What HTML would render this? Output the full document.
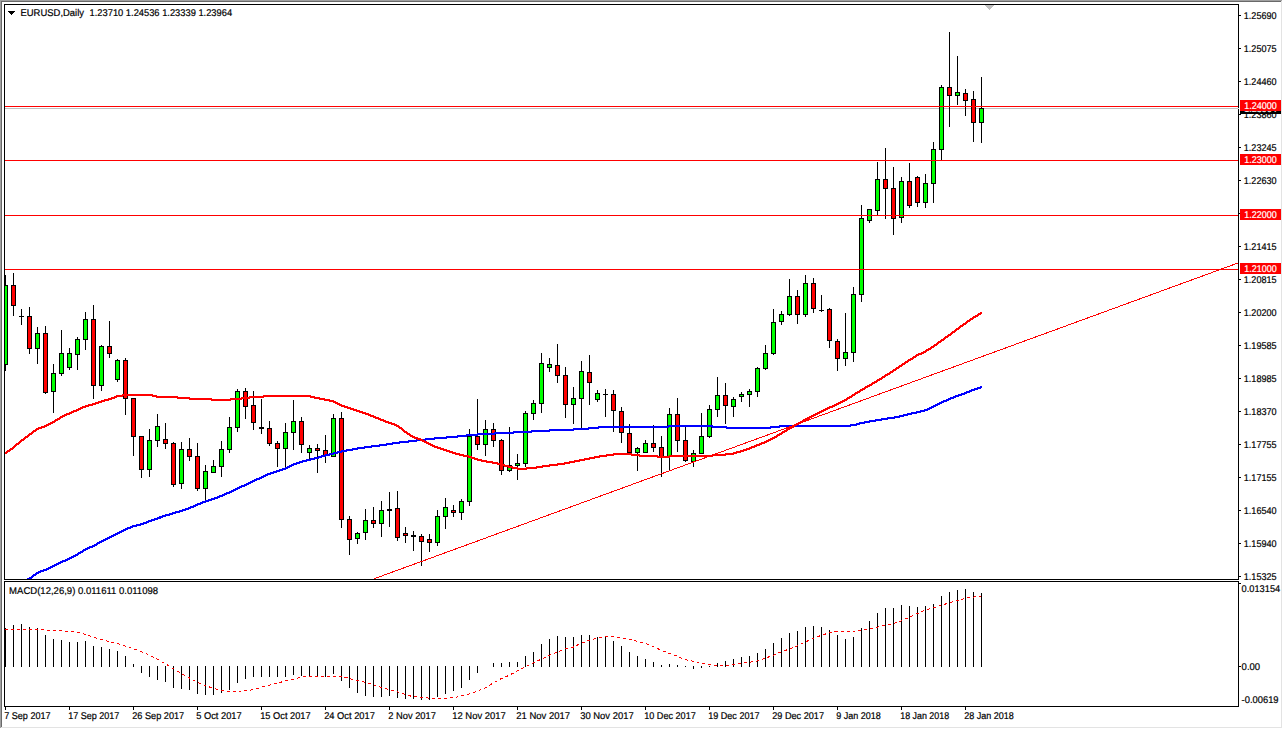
<!DOCTYPE html><html><head><meta charset="utf-8"><title>EURUSD,Daily</title><style>html,body{margin:0;padding:0;background:#fff;overflow:hidden}svg{display:block}text{font-family:"Liberation Sans",Arial,sans-serif;font-size:9.8px;text-rendering:geometricPrecision;stroke:currentColor;stroke-width:0.2px}</style></head><body>
<svg width="1283" height="729" viewBox="0 0 1283 729">
<defs><clipPath id="cm"><rect x="5" y="5" width="1233" height="574"/></clipPath><clipPath id="cd"><rect x="5" y="582" width="1233" height="124"/></clipPath></defs>
<rect x="0" y="0" width="1283" height="729" fill="#fff"/>
<g shape-rendering="crispEdges"><rect x="0" y="0" width="1282" height="1" fill="#a0a0a0"/><rect x="0" y="0" width="1" height="728" fill="#a0a0a0"/><rect x="1" y="1" width="1280" height="1" fill="#696969"/><rect x="1" y="1" width="1" height="726" fill="#696969"/><rect x="1281" y="1" width="1" height="727" fill="#e3e3e3"/><rect x="1" y="727" width="1281" height="1" fill="#e3e3e3"/></g>
<g clip-path="url(#cm)">
<rect x="5" y="108" width="1234" height="1" fill="#c0c0c0" shape-rendering="crispEdges"/>
<g shape-rendering="crispEdges" fill="#000"><rect x="5" y="275" width="1" height="96"/><rect x="3" y="285" width="5" height="80"/><rect x="4" y="286" width="3" height="78" fill="#00ff00"/><rect x="13" y="273" width="1" height="43"/><rect x="11" y="285" width="5" height="21"/><rect x="12" y="286" width="3" height="19" fill="#ff0000"/><rect x="21" y="309" width="1" height="16"/><rect x="19" y="316" width="5" height="1"/><rect x="29" y="307" width="1" height="47"/><rect x="27" y="316" width="5" height="33"/><rect x="28" y="317" width="3" height="31" fill="#ff0000"/><rect x="37" y="327" width="1" height="37"/><rect x="35" y="333" width="5" height="16"/><rect x="36" y="334" width="3" height="14" fill="#00ff00"/><rect x="45" y="326" width="1" height="68"/><rect x="43" y="333" width="5" height="60"/><rect x="44" y="334" width="3" height="58" fill="#ff0000"/><rect x="53" y="364" width="1" height="49"/><rect x="51" y="373" width="5" height="19"/><rect x="52" y="374" width="3" height="17" fill="#00ff00"/><rect x="61" y="330" width="1" height="46"/><rect x="59" y="353" width="5" height="21"/><rect x="60" y="354" width="3" height="19" fill="#00ff00"/><rect x="69" y="348" width="1" height="22"/><rect x="67" y="353" width="5" height="15"/><rect x="68" y="354" width="3" height="13" fill="#00ff00"/><rect x="77" y="337" width="1" height="33"/><rect x="75" y="339" width="5" height="16"/><rect x="76" y="340" width="3" height="14" fill="#00ff00"/><rect x="85" y="312" width="1" height="38"/><rect x="83" y="319" width="5" height="21"/><rect x="84" y="320" width="3" height="19" fill="#00ff00"/><rect x="93" y="305" width="1" height="94"/><rect x="91" y="319" width="5" height="67"/><rect x="92" y="320" width="3" height="65" fill="#ff0000"/><rect x="101" y="345" width="1" height="46"/><rect x="99" y="346" width="5" height="40"/><rect x="100" y="347" width="3" height="38" fill="#00ff00"/><rect x="109" y="321" width="1" height="37"/><rect x="107" y="346" width="5" height="8"/><rect x="108" y="347" width="3" height="6" fill="#ff0000"/><rect x="117" y="359" width="1" height="23"/><rect x="115" y="360" width="5" height="20"/><rect x="116" y="361" width="3" height="18" fill="#00ff00"/><rect x="125" y="358" width="1" height="57"/><rect x="123" y="360" width="5" height="39"/><rect x="124" y="361" width="3" height="37" fill="#ff0000"/><rect x="133" y="398" width="1" height="58"/><rect x="131" y="398" width="5" height="39"/><rect x="132" y="399" width="3" height="37" fill="#ff0000"/><rect x="141" y="436" width="1" height="42"/><rect x="139" y="436" width="5" height="34"/><rect x="140" y="437" width="3" height="32" fill="#ff0000"/><rect x="149" y="429" width="1" height="48"/><rect x="147" y="440" width="5" height="30"/><rect x="148" y="441" width="3" height="28" fill="#00ff00"/><rect x="157" y="414" width="1" height="33"/><rect x="155" y="426" width="5" height="15"/><rect x="156" y="427" width="3" height="13" fill="#00ff00"/><rect x="165" y="423" width="1" height="26"/><rect x="163" y="439" width="5" height="5"/><rect x="164" y="440" width="3" height="3" fill="#ff0000"/><rect x="173" y="442" width="1" height="45"/><rect x="171" y="443" width="5" height="42"/><rect x="172" y="444" width="3" height="40" fill="#ff0000"/><rect x="181" y="442" width="1" height="47"/><rect x="179" y="449" width="5" height="35"/><rect x="180" y="450" width="3" height="33" fill="#00ff00"/><rect x="189" y="438" width="1" height="23"/><rect x="187" y="449" width="5" height="8"/><rect x="188" y="450" width="3" height="6" fill="#ff0000"/><rect x="197" y="443" width="1" height="48"/><rect x="195" y="456" width="5" height="33"/><rect x="196" y="457" width="3" height="31" fill="#ff0000"/><rect x="205" y="465" width="1" height="36"/><rect x="203" y="471" width="5" height="18"/><rect x="204" y="472" width="3" height="16" fill="#00ff00"/><rect x="213" y="460" width="1" height="13"/><rect x="211" y="466" width="5" height="7"/><rect x="212" y="467" width="3" height="5" fill="#00ff00"/><rect x="221" y="441" width="1" height="36"/><rect x="219" y="449" width="5" height="18"/><rect x="220" y="450" width="3" height="16" fill="#00ff00"/><rect x="229" y="417" width="1" height="36"/><rect x="227" y="427" width="5" height="23"/><rect x="228" y="428" width="3" height="21" fill="#00ff00"/><rect x="237" y="389" width="1" height="43"/><rect x="235" y="391" width="5" height="37"/><rect x="236" y="392" width="3" height="35" fill="#00ff00"/><rect x="245" y="388" width="1" height="31"/><rect x="243" y="391" width="5" height="16"/><rect x="244" y="392" width="3" height="14" fill="#ff0000"/><rect x="253" y="391" width="1" height="39"/><rect x="251" y="405" width="5" height="18"/><rect x="252" y="406" width="3" height="16" fill="#ff0000"/><rect x="261" y="399" width="1" height="35"/><rect x="259" y="427" width="5" height="2"/><rect x="269" y="421" width="1" height="25"/><rect x="267" y="428" width="5" height="16"/><rect x="268" y="429" width="3" height="14" fill="#ff0000"/><rect x="277" y="441" width="1" height="26"/><rect x="275" y="443" width="5" height="6"/><rect x="276" y="444" width="3" height="4" fill="#ff0000"/><rect x="285" y="423" width="1" height="45"/><rect x="283" y="432" width="5" height="17"/><rect x="284" y="433" width="3" height="15" fill="#00ff00"/><rect x="293" y="400" width="1" height="50"/><rect x="291" y="421" width="5" height="12"/><rect x="292" y="422" width="3" height="10" fill="#00ff00"/><rect x="301" y="417" width="1" height="36"/><rect x="299" y="421" width="5" height="24"/><rect x="300" y="422" width="3" height="22" fill="#ff0000"/><rect x="309" y="445" width="1" height="14"/><rect x="307" y="448" width="5" height="5"/><rect x="308" y="449" width="3" height="3" fill="#00ff00"/><rect x="317" y="444" width="1" height="29"/><rect x="315" y="448" width="5" height="3"/><rect x="316" y="449" width="3" height="1" fill="#ff0000"/><rect x="325" y="435" width="1" height="28"/><rect x="323" y="450" width="5" height="6"/><rect x="324" y="451" width="3" height="4" fill="#ff0000"/><rect x="333" y="414" width="1" height="43"/><rect x="331" y="418" width="5" height="39"/><rect x="332" y="419" width="3" height="37" fill="#00ff00"/><rect x="341" y="412" width="1" height="116"/><rect x="339" y="418" width="5" height="102"/><rect x="340" y="419" width="3" height="100" fill="#ff0000"/><rect x="349" y="516" width="1" height="39"/><rect x="347" y="519" width="5" height="21"/><rect x="348" y="520" width="3" height="19" fill="#ff0000"/><rect x="357" y="532" width="1" height="12"/><rect x="355" y="533" width="5" height="6"/><rect x="356" y="534" width="3" height="4" fill="#00ff00"/><rect x="365" y="509" width="1" height="31"/><rect x="363" y="520" width="5" height="13"/><rect x="364" y="521" width="3" height="11" fill="#00ff00"/><rect x="373" y="507" width="1" height="21"/><rect x="371" y="520" width="5" height="4"/><rect x="372" y="521" width="3" height="2" fill="#ff0000"/><rect x="381" y="501" width="1" height="36"/><rect x="379" y="510" width="5" height="14"/><rect x="380" y="511" width="3" height="12" fill="#00ff00"/><rect x="389" y="492" width="1" height="35"/><rect x="387" y="509" width="5" height="2"/><rect x="397" y="491" width="1" height="50"/><rect x="395" y="508" width="5" height="30"/><rect x="396" y="509" width="3" height="28" fill="#ff0000"/><rect x="405" y="527" width="1" height="16"/><rect x="403" y="533" width="5" height="3"/><rect x="404" y="534" width="3" height="1" fill="#ff0000"/><rect x="413" y="531" width="1" height="20"/><rect x="411" y="535" width="5" height="2"/><rect x="421" y="534" width="1" height="32"/><rect x="419" y="536" width="5" height="6"/><rect x="420" y="537" width="3" height="4" fill="#ff0000"/><rect x="429" y="534" width="1" height="18"/><rect x="427" y="539" width="5" height="4"/><rect x="428" y="540" width="3" height="2" fill="#ff0000"/><rect x="437" y="510" width="1" height="36"/><rect x="435" y="516" width="5" height="27"/><rect x="436" y="517" width="3" height="25" fill="#00ff00"/><rect x="445" y="498" width="1" height="31"/><rect x="443" y="507" width="5" height="10"/><rect x="444" y="508" width="3" height="8" fill="#00ff00"/><rect x="453" y="505" width="1" height="12"/><rect x="451" y="510" width="5" height="3"/><rect x="452" y="511" width="3" height="1" fill="#ff0000"/><rect x="461" y="499" width="1" height="21"/><rect x="459" y="501" width="5" height="12"/><rect x="460" y="502" width="3" height="10" fill="#00ff00"/><rect x="469" y="429" width="1" height="77"/><rect x="467" y="436" width="5" height="66"/><rect x="468" y="437" width="3" height="64" fill="#00ff00"/><rect x="477" y="399" width="1" height="51"/><rect x="475" y="436" width="5" height="9"/><rect x="476" y="437" width="3" height="7" fill="#ff0000"/><rect x="485" y="420" width="1" height="36"/><rect x="483" y="429" width="5" height="16"/><rect x="484" y="430" width="3" height="14" fill="#00ff00"/><rect x="493" y="423" width="1" height="24"/><rect x="491" y="429" width="5" height="12"/><rect x="492" y="430" width="3" height="10" fill="#ff0000"/><rect x="501" y="439" width="1" height="36"/><rect x="499" y="440" width="5" height="31"/><rect x="500" y="441" width="3" height="29" fill="#ff0000"/><rect x="509" y="427" width="1" height="45"/><rect x="507" y="465" width="5" height="6"/><rect x="508" y="466" width="3" height="4" fill="#00ff00"/><rect x="517" y="454" width="1" height="26"/><rect x="515" y="463" width="5" height="3"/><rect x="516" y="464" width="3" height="1" fill="#00ff00"/><rect x="525" y="411" width="1" height="56"/><rect x="523" y="413" width="5" height="51"/><rect x="524" y="414" width="3" height="49" fill="#00ff00"/><rect x="533" y="400" width="1" height="20"/><rect x="531" y="403" width="5" height="11"/><rect x="532" y="404" width="3" height="9" fill="#00ff00"/><rect x="541" y="353" width="1" height="60"/><rect x="539" y="363" width="5" height="41"/><rect x="540" y="364" width="3" height="39" fill="#00ff00"/><rect x="549" y="358" width="1" height="14"/><rect x="547" y="364" width="5" height="4"/><rect x="548" y="365" width="3" height="2" fill="#00ff00"/><rect x="557" y="344" width="1" height="39"/><rect x="555" y="365" width="5" height="11"/><rect x="556" y="366" width="3" height="9" fill="#ff0000"/><rect x="565" y="367" width="1" height="51"/><rect x="563" y="375" width="5" height="30"/><rect x="564" y="376" width="3" height="28" fill="#ff0000"/><rect x="573" y="387" width="1" height="37"/><rect x="571" y="398" width="5" height="7"/><rect x="572" y="399" width="3" height="5" fill="#00ff00"/><rect x="581" y="361" width="1" height="67"/><rect x="579" y="371" width="5" height="28"/><rect x="580" y="372" width="3" height="26" fill="#00ff00"/><rect x="589" y="355" width="1" height="50"/><rect x="587" y="372" width="5" height="11"/><rect x="588" y="373" width="3" height="9" fill="#ff0000"/><rect x="597" y="390" width="1" height="12"/><rect x="595" y="393" width="5" height="7"/><rect x="596" y="394" width="3" height="5" fill="#00ff00"/><rect x="605" y="389" width="1" height="28"/><rect x="603" y="394" width="5" height="1"/><rect x="613" y="390" width="1" height="42"/><rect x="611" y="394" width="5" height="17"/><rect x="612" y="395" width="3" height="15" fill="#ff0000"/><rect x="621" y="407" width="1" height="36"/><rect x="619" y="411" width="5" height="22"/><rect x="620" y="412" width="3" height="20" fill="#ff0000"/><rect x="629" y="424" width="1" height="29"/><rect x="627" y="433" width="5" height="20"/><rect x="628" y="434" width="3" height="18" fill="#ff0000"/><rect x="637" y="447" width="1" height="24"/><rect x="635" y="448" width="5" height="5"/><rect x="636" y="449" width="3" height="3" fill="#00ff00"/><rect x="645" y="440" width="1" height="13"/><rect x="643" y="443" width="5" height="10"/><rect x="644" y="444" width="3" height="8" fill="#00ff00"/><rect x="653" y="425" width="1" height="27"/><rect x="651" y="443" width="5" height="5"/><rect x="652" y="444" width="3" height="3" fill="#ff0000"/><rect x="661" y="436" width="1" height="41"/><rect x="659" y="447" width="5" height="10"/><rect x="660" y="448" width="3" height="8" fill="#ff0000"/><rect x="669" y="408" width="1" height="63"/><rect x="667" y="414" width="5" height="43"/><rect x="668" y="415" width="3" height="41" fill="#00ff00"/><rect x="677" y="398" width="1" height="54"/><rect x="675" y="414" width="5" height="27"/><rect x="676" y="415" width="3" height="25" fill="#ff0000"/><rect x="685" y="427" width="1" height="35"/><rect x="683" y="440" width="5" height="21"/><rect x="684" y="441" width="3" height="19" fill="#ff0000"/><rect x="693" y="450" width="1" height="17"/><rect x="691" y="453" width="5" height="9"/><rect x="692" y="454" width="3" height="7" fill="#00ff00"/><rect x="701" y="413" width="1" height="41"/><rect x="699" y="436" width="5" height="18"/><rect x="700" y="437" width="3" height="16" fill="#00ff00"/><rect x="709" y="405" width="1" height="33"/><rect x="707" y="409" width="5" height="28"/><rect x="708" y="410" width="3" height="26" fill="#00ff00"/><rect x="717" y="377" width="1" height="40"/><rect x="715" y="395" width="5" height="15"/><rect x="716" y="396" width="3" height="13" fill="#00ff00"/><rect x="725" y="383" width="1" height="41"/><rect x="723" y="395" width="5" height="11"/><rect x="724" y="396" width="3" height="9" fill="#ff0000"/><rect x="733" y="397" width="1" height="20"/><rect x="731" y="399" width="5" height="8"/><rect x="732" y="400" width="3" height="6" fill="#00ff00"/><rect x="741" y="392" width="1" height="10"/><rect x="739" y="394" width="5" height="3"/><rect x="740" y="395" width="3" height="1" fill="#00ff00"/><rect x="749" y="389" width="1" height="18"/><rect x="747" y="391" width="5" height="4"/><rect x="748" y="392" width="3" height="2" fill="#00ff00"/><rect x="757" y="367" width="1" height="30"/><rect x="755" y="368" width="5" height="24"/><rect x="756" y="369" width="3" height="22" fill="#00ff00"/><rect x="765" y="345" width="1" height="25"/><rect x="763" y="353" width="5" height="16"/><rect x="764" y="354" width="3" height="14" fill="#00ff00"/><rect x="773" y="309" width="1" height="46"/><rect x="771" y="322" width="5" height="32"/><rect x="772" y="323" width="3" height="30" fill="#00ff00"/><rect x="781" y="311" width="1" height="14"/><rect x="779" y="314" width="5" height="8"/><rect x="780" y="315" width="3" height="6" fill="#00ff00"/><rect x="789" y="279" width="1" height="37"/><rect x="787" y="296" width="5" height="19"/><rect x="788" y="297" width="3" height="17" fill="#00ff00"/><rect x="797" y="290" width="1" height="34"/><rect x="795" y="296" width="5" height="19"/><rect x="796" y="297" width="3" height="17" fill="#ff0000"/><rect x="805" y="275" width="1" height="42"/><rect x="803" y="283" width="5" height="32"/><rect x="804" y="284" width="3" height="30" fill="#00ff00"/><rect x="813" y="278" width="1" height="35"/><rect x="811" y="283" width="5" height="26"/><rect x="812" y="284" width="3" height="24" fill="#ff0000"/><rect x="821" y="295" width="1" height="17"/><rect x="819" y="310" width="5" height="1"/><rect x="829" y="308" width="1" height="40"/><rect x="827" y="309" width="5" height="32"/><rect x="828" y="310" width="3" height="30" fill="#ff0000"/><rect x="837" y="339" width="1" height="32"/><rect x="835" y="341" width="5" height="18"/><rect x="836" y="342" width="3" height="16" fill="#ff0000"/><rect x="845" y="313" width="1" height="53"/><rect x="843" y="352" width="5" height="7"/><rect x="844" y="353" width="3" height="5" fill="#00ff00"/><rect x="853" y="287" width="1" height="75"/><rect x="851" y="294" width="5" height="59"/><rect x="852" y="295" width="3" height="57" fill="#00ff00"/><rect x="861" y="205" width="1" height="97"/><rect x="859" y="218" width="5" height="77"/><rect x="860" y="219" width="3" height="75" fill="#00ff00"/><rect x="869" y="209" width="1" height="14"/><rect x="867" y="209" width="5" height="12"/><rect x="868" y="210" width="3" height="10" fill="#00ff00"/><rect x="877" y="162" width="1" height="53"/><rect x="875" y="179" width="5" height="32"/><rect x="876" y="180" width="3" height="30" fill="#00ff00"/><rect x="885" y="148" width="1" height="71"/><rect x="883" y="179" width="5" height="10"/><rect x="884" y="180" width="3" height="8" fill="#ff0000"/><rect x="893" y="167" width="1" height="68"/><rect x="891" y="188" width="5" height="31"/><rect x="892" y="189" width="3" height="29" fill="#ff0000"/><rect x="901" y="177" width="1" height="46"/><rect x="899" y="181" width="5" height="37"/><rect x="900" y="182" width="3" height="35" fill="#00ff00"/><rect x="909" y="163" width="1" height="45"/><rect x="907" y="181" width="5" height="25"/><rect x="908" y="182" width="3" height="23" fill="#ff0000"/><rect x="917" y="176" width="1" height="31"/><rect x="915" y="177" width="5" height="26"/><rect x="916" y="178" width="3" height="24" fill="#ff0000"/><rect x="925" y="174" width="1" height="34"/><rect x="923" y="183" width="5" height="20"/><rect x="924" y="184" width="3" height="18" fill="#00ff00"/><rect x="933" y="142" width="1" height="61"/><rect x="931" y="149" width="5" height="35"/><rect x="932" y="150" width="3" height="33" fill="#00ff00"/><rect x="941" y="85" width="1" height="76"/><rect x="939" y="87" width="5" height="63"/><rect x="940" y="88" width="3" height="61" fill="#00ff00"/><rect x="949" y="32" width="1" height="95"/><rect x="947" y="87" width="5" height="9"/><rect x="948" y="88" width="3" height="7" fill="#ff0000"/><rect x="957" y="56" width="1" height="49"/><rect x="955" y="92" width="5" height="4"/><rect x="956" y="93" width="3" height="2" fill="#00ff00"/><rect x="965" y="89" width="1" height="27"/><rect x="963" y="93" width="5" height="8"/><rect x="964" y="94" width="3" height="6" fill="#ff0000"/><rect x="973" y="91" width="1" height="51"/><rect x="971" y="99" width="5" height="24"/><rect x="972" y="100" width="3" height="22" fill="#ff0000"/><rect x="981" y="77" width="1" height="66"/><rect x="979" y="108" width="5" height="15"/><rect x="980" y="109" width="3" height="13" fill="#00ff00"/></g>
<g fill="#0000ff" shape-rendering="crispEdges"><rect x="5" y="589" width="2" height="2"/><rect x="7" y="588" width="1" height="3"/><rect x="8" y="588" width="1" height="2"/><rect x="9" y="587" width="1" height="3"/><rect x="10" y="587" width="1" height="2"/><rect x="11" y="586" width="1" height="3"/><rect x="12" y="586" width="1" height="2"/><rect x="13" y="585" width="1" height="3"/><rect x="14" y="585" width="1" height="2"/><rect x="15" y="584" width="1" height="3"/><rect x="16" y="584" width="1" height="2"/><rect x="17" y="583" width="1" height="3"/><rect x="18" y="583" width="1" height="2"/><rect x="19" y="582" width="1" height="3"/><rect x="20" y="582" width="1" height="2"/><rect x="21" y="581" width="1" height="3"/><rect x="22" y="581" width="1" height="2"/><rect x="23" y="580" width="1" height="3"/><rect x="24" y="580" width="1" height="2"/><rect x="25" y="579" width="1" height="3"/><rect x="26" y="579" width="1" height="2"/><rect x="27" y="578" width="1" height="3"/><rect x="28" y="578" width="1" height="2"/><rect x="29" y="577" width="1" height="3"/><rect x="30" y="577" width="1" height="2"/><rect x="31" y="576" width="1" height="3"/><rect x="32" y="575" width="1" height="3"/><rect x="33" y="574" width="1" height="3"/><rect x="34" y="574" width="1" height="2"/><rect x="35" y="573" width="1" height="3"/><rect x="36" y="572" width="1" height="3"/><rect x="37" y="572" width="1" height="2"/><rect x="38" y="571" width="1" height="3"/><rect x="39" y="571" width="1" height="2"/><rect x="40" y="570" width="1" height="3"/><rect x="41" y="570" width="2" height="2"/><rect x="43" y="569" width="1" height="3"/><rect x="44" y="569" width="2" height="2"/><rect x="46" y="568" width="1" height="3"/><rect x="47" y="568" width="1" height="2"/><rect x="48" y="567" width="1" height="3"/><rect x="49" y="567" width="1" height="2"/><rect x="50" y="566" width="1" height="3"/><rect x="51" y="566" width="1" height="2"/><rect x="52" y="565" width="1" height="3"/><rect x="53" y="565" width="1" height="2"/><rect x="54" y="564" width="1" height="3"/><rect x="55" y="564" width="1" height="2"/><rect x="56" y="563" width="1" height="3"/><rect x="57" y="563" width="1" height="2"/><rect x="58" y="562" width="1" height="3"/><rect x="59" y="562" width="1" height="2"/><rect x="60" y="561" width="1" height="3"/><rect x="61" y="561" width="1" height="2"/><rect x="62" y="560" width="1" height="3"/><rect x="63" y="560" width="2" height="2"/><rect x="65" y="559" width="1" height="3"/><rect x="66" y="559" width="1" height="2"/><rect x="67" y="558" width="1" height="3"/><rect x="68" y="558" width="1" height="2"/><rect x="69" y="557" width="1" height="3"/><rect x="70" y="557" width="1" height="2"/><rect x="71" y="556" width="1" height="3"/><rect x="72" y="556" width="1" height="2"/><rect x="73" y="555" width="1" height="3"/><rect x="74" y="555" width="1" height="2"/><rect x="75" y="554" width="1" height="3"/><rect x="76" y="554" width="1" height="2"/><rect x="77" y="553" width="1" height="3"/><rect x="78" y="552" width="1" height="3"/><rect x="79" y="552" width="1" height="2"/><rect x="80" y="551" width="1" height="3"/><rect x="81" y="551" width="1" height="2"/><rect x="82" y="550" width="1" height="3"/><rect x="83" y="549" width="1" height="3"/><rect x="84" y="549" width="1" height="2"/><rect x="85" y="548" width="1" height="3"/><rect x="86" y="548" width="1" height="2"/><rect x="87" y="547" width="1" height="3"/><rect x="88" y="547" width="1" height="2"/><rect x="89" y="546" width="1" height="3"/><rect x="90" y="546" width="2" height="2"/><rect x="92" y="545" width="1" height="3"/><rect x="93" y="545" width="1" height="2"/><rect x="94" y="544" width="1" height="3"/><rect x="95" y="544" width="1" height="2"/><rect x="96" y="543" width="1" height="3"/><rect x="97" y="542" width="1" height="3"/><rect x="98" y="542" width="1" height="2"/><rect x="99" y="541" width="1" height="3"/><rect x="100" y="541" width="1" height="2"/><rect x="101" y="540" width="1" height="3"/><rect x="102" y="540" width="1" height="2"/><rect x="103" y="539" width="1" height="3"/><rect x="104" y="539" width="1" height="2"/><rect x="105" y="538" width="1" height="3"/><rect x="106" y="538" width="1" height="2"/><rect x="107" y="537" width="1" height="3"/><rect x="108" y="537" width="1" height="2"/><rect x="109" y="536" width="1" height="3"/><rect x="110" y="536" width="1" height="2"/><rect x="111" y="535" width="1" height="3"/><rect x="112" y="535" width="1" height="2"/><rect x="113" y="534" width="1" height="3"/><rect x="114" y="534" width="1" height="2"/><rect x="115" y="533" width="1" height="3"/><rect x="116" y="533" width="1" height="2"/><rect x="117" y="532" width="1" height="3"/><rect x="118" y="532" width="1" height="2"/><rect x="119" y="531" width="1" height="3"/><rect x="120" y="531" width="1" height="2"/><rect x="121" y="530" width="1" height="3"/><rect x="122" y="530" width="1" height="2"/><rect x="123" y="529" width="1" height="3"/><rect x="124" y="529" width="1" height="2"/><rect x="125" y="528" width="1" height="3"/><rect x="126" y="528" width="1" height="2"/><rect x="127" y="527" width="1" height="3"/><rect x="128" y="527" width="2" height="2"/><rect x="130" y="526" width="1" height="3"/><rect x="131" y="526" width="1" height="2"/><rect x="132" y="525" width="1" height="3"/><rect x="133" y="525" width="3" height="2"/><rect x="136" y="524" width="1" height="3"/><rect x="137" y="524" width="3" height="2"/><rect x="140" y="523" width="1" height="3"/><rect x="141" y="523" width="2" height="2"/><rect x="143" y="522" width="1" height="3"/><rect x="144" y="522" width="2" height="2"/><rect x="146" y="521" width="1" height="3"/><rect x="147" y="521" width="1" height="2"/><rect x="148" y="520" width="1" height="3"/><rect x="149" y="520" width="2" height="2"/><rect x="151" y="519" width="1" height="3"/><rect x="152" y="519" width="2" height="2"/><rect x="154" y="518" width="1" height="3"/><rect x="155" y="518" width="2" height="2"/><rect x="157" y="517" width="1" height="3"/><rect x="158" y="517" width="1" height="2"/><rect x="159" y="516" width="2" height="3"/><rect x="161" y="516" width="1" height="2"/><rect x="162" y="515" width="1" height="3"/><rect x="163" y="515" width="2" height="2"/><rect x="165" y="514" width="1" height="3"/><rect x="166" y="514" width="3" height="2"/><rect x="169" y="513" width="1" height="3"/><rect x="170" y="513" width="2" height="2"/><rect x="172" y="512" width="1" height="3"/><rect x="173" y="512" width="2" height="2"/><rect x="175" y="511" width="1" height="3"/><rect x="176" y="511" width="3" height="2"/><rect x="179" y="510" width="1" height="3"/><rect x="180" y="510" width="2" height="2"/><rect x="182" y="509" width="1" height="3"/><rect x="183" y="509" width="2" height="2"/><rect x="185" y="508" width="1" height="3"/><rect x="186" y="508" width="2" height="2"/><rect x="188" y="507" width="1" height="3"/><rect x="189" y="507" width="1" height="2"/><rect x="190" y="506" width="1" height="3"/><rect x="191" y="506" width="2" height="2"/><rect x="193" y="505" width="1" height="3"/><rect x="194" y="505" width="1" height="2"/><rect x="195" y="504" width="1" height="3"/><rect x="196" y="504" width="1" height="2"/><rect x="197" y="503" width="1" height="3"/><rect x="198" y="503" width="2" height="2"/><rect x="200" y="502" width="1" height="3"/><rect x="201" y="502" width="1" height="2"/><rect x="202" y="501" width="1" height="3"/><rect x="203" y="501" width="2" height="2"/><rect x="205" y="500" width="1" height="3"/><rect x="206" y="500" width="2" height="2"/><rect x="208" y="499" width="1" height="3"/><rect x="209" y="499" width="2" height="2"/><rect x="211" y="498" width="1" height="3"/><rect x="212" y="498" width="2" height="2"/><rect x="214" y="497" width="1" height="3"/><rect x="215" y="497" width="2" height="2"/><rect x="217" y="496" width="1" height="3"/><rect x="218" y="496" width="1" height="2"/><rect x="219" y="495" width="1" height="3"/><rect x="220" y="495" width="2" height="2"/><rect x="222" y="494" width="1" height="3"/><rect x="223" y="494" width="1" height="2"/><rect x="224" y="493" width="1" height="3"/><rect x="225" y="493" width="1" height="2"/><rect x="226" y="492" width="1" height="3"/><rect x="227" y="492" width="2" height="2"/><rect x="229" y="491" width="1" height="3"/><rect x="230" y="491" width="1" height="2"/><rect x="231" y="490" width="1" height="3"/><rect x="232" y="490" width="1" height="2"/><rect x="233" y="489" width="1" height="3"/><rect x="234" y="489" width="1" height="2"/><rect x="235" y="488" width="1" height="3"/><rect x="236" y="488" width="1" height="2"/><rect x="237" y="487" width="1" height="3"/><rect x="238" y="487" width="1" height="2"/><rect x="239" y="486" width="1" height="3"/><rect x="240" y="486" width="1" height="2"/><rect x="241" y="485" width="1" height="3"/><rect x="242" y="485" width="2" height="2"/><rect x="244" y="484" width="1" height="3"/><rect x="245" y="484" width="1" height="2"/><rect x="246" y="483" width="1" height="3"/><rect x="247" y="483" width="1" height="2"/><rect x="248" y="482" width="1" height="3"/><rect x="249" y="482" width="1" height="2"/><rect x="250" y="481" width="1" height="3"/><rect x="251" y="481" width="1" height="2"/><rect x="252" y="480" width="1" height="3"/><rect x="253" y="480" width="1" height="2"/><rect x="254" y="479" width="1" height="3"/><rect x="255" y="479" width="1" height="2"/><rect x="256" y="478" width="1" height="3"/><rect x="257" y="478" width="2" height="2"/><rect x="259" y="477" width="1" height="3"/><rect x="260" y="477" width="1" height="2"/><rect x="261" y="476" width="1" height="3"/><rect x="262" y="476" width="1" height="2"/><rect x="263" y="475" width="1" height="3"/><rect x="264" y="475" width="1" height="2"/><rect x="265" y="474" width="1" height="3"/><rect x="266" y="474" width="1" height="2"/><rect x="267" y="473" width="1" height="3"/><rect x="268" y="473" width="2" height="2"/><rect x="270" y="472" width="1" height="3"/><rect x="271" y="472" width="2" height="2"/><rect x="273" y="471" width="1" height="3"/><rect x="274" y="471" width="2" height="2"/><rect x="276" y="470" width="1" height="3"/><rect x="277" y="470" width="2" height="2"/><rect x="279" y="469" width="1" height="3"/><rect x="280" y="469" width="2" height="2"/><rect x="282" y="468" width="1" height="3"/><rect x="283" y="468" width="2" height="2"/><rect x="285" y="467" width="1" height="3"/><rect x="286" y="467" width="1" height="2"/><rect x="287" y="466" width="1" height="3"/><rect x="288" y="466" width="1" height="2"/><rect x="289" y="465" width="1" height="3"/><rect x="290" y="465" width="1" height="2"/><rect x="291" y="464" width="1" height="3"/><rect x="292" y="464" width="1" height="2"/><rect x="293" y="463" width="1" height="3"/><rect x="294" y="463" width="2" height="2"/><rect x="296" y="462" width="1" height="3"/><rect x="297" y="462" width="2" height="2"/><rect x="299" y="461" width="1" height="3"/><rect x="300" y="461" width="2" height="2"/><rect x="302" y="460" width="1" height="3"/><rect x="303" y="460" width="3" height="2"/><rect x="306" y="459" width="1" height="3"/><rect x="307" y="459" width="3" height="2"/><rect x="310" y="458" width="1" height="3"/><rect x="311" y="458" width="3" height="2"/><rect x="314" y="457" width="1" height="3"/><rect x="315" y="457" width="3" height="2"/><rect x="318" y="456" width="1" height="3"/><rect x="319" y="456" width="2" height="2"/><rect x="321" y="455" width="1" height="3"/><rect x="322" y="455" width="3" height="2"/><rect x="325" y="454" width="1" height="3"/><rect x="326" y="454" width="3" height="2"/><rect x="329" y="453" width="1" height="3"/><rect x="330" y="453" width="3" height="2"/><rect x="333" y="452" width="1" height="3"/><rect x="334" y="452" width="3" height="2"/><rect x="337" y="451" width="1" height="3"/><rect x="338" y="451" width="3" height="2"/><rect x="341" y="450" width="1" height="3"/><rect x="342" y="450" width="4" height="2"/><rect x="346" y="449" width="1" height="3"/><rect x="347" y="449" width="5" height="2"/><rect x="352" y="448" width="1" height="3"/><rect x="353" y="448" width="4" height="2"/><rect x="357" y="447" width="1" height="3"/><rect x="358" y="447" width="6" height="2"/><rect x="364" y="446" width="1" height="3"/><rect x="365" y="446" width="6" height="2"/><rect x="371" y="445" width="1" height="3"/><rect x="372" y="445" width="7" height="2"/><rect x="379" y="444" width="1" height="3"/><rect x="380" y="444" width="6" height="2"/><rect x="386" y="443" width="1" height="3"/><rect x="387" y="443" width="5" height="2"/><rect x="392" y="442" width="1" height="3"/><rect x="393" y="442" width="6" height="2"/><rect x="399" y="441" width="1" height="3"/><rect x="400" y="441" width="8" height="2"/><rect x="408" y="440" width="1" height="3"/><rect x="409" y="440" width="7" height="2"/><rect x="416" y="439" width="1" height="3"/><rect x="417" y="439" width="8" height="2"/><rect x="425" y="438" width="1" height="3"/><rect x="426" y="438" width="8" height="2"/><rect x="434" y="437" width="1" height="3"/><rect x="435" y="437" width="11" height="2"/><rect x="446" y="436" width="1" height="3"/><rect x="447" y="436" width="10" height="2"/><rect x="457" y="435" width="1" height="3"/><rect x="458" y="435" width="8" height="2"/><rect x="466" y="434" width="1" height="3"/><rect x="467" y="434" width="10" height="2"/><rect x="477" y="433" width="1" height="3"/><rect x="478" y="433" width="16" height="2"/><rect x="494" y="432" width="1" height="3"/><rect x="495" y="432" width="18" height="2"/><rect x="513" y="431" width="1" height="3"/><rect x="514" y="431" width="17" height="2"/><rect x="531" y="430" width="1" height="3"/><rect x="532" y="430" width="17" height="2"/><rect x="549" y="429" width="1" height="3"/><rect x="550" y="429" width="23" height="2"/><rect x="573" y="428" width="1" height="3"/><rect x="574" y="428" width="14" height="2"/><rect x="588" y="427" width="1" height="3"/><rect x="589" y="427" width="9" height="2"/><rect x="598" y="426" width="1" height="3"/><rect x="599" y="426" width="69" height="2"/><rect x="668" y="425" width="1" height="3"/><rect x="669" y="425" width="43" height="2"/><rect x="712" y="425" width="1" height="3"/><rect x="713" y="426" width="13" height="2"/><rect x="726" y="426" width="1" height="3"/><rect x="727" y="427" width="43" height="2"/><rect x="770" y="426" width="1" height="3"/><rect x="771" y="426" width="8" height="2"/><rect x="779" y="425" width="1" height="3"/><rect x="780" y="425" width="70" height="2"/><rect x="850" y="424" width="1" height="3"/><rect x="851" y="424" width="5" height="2"/><rect x="856" y="423" width="1" height="3"/><rect x="857" y="423" width="2" height="2"/><rect x="859" y="422" width="1" height="3"/><rect x="860" y="422" width="4" height="2"/><rect x="864" y="421" width="1" height="3"/><rect x="865" y="421" width="4" height="2"/><rect x="869" y="420" width="1" height="3"/><rect x="870" y="420" width="5" height="2"/><rect x="875" y="419" width="1" height="3"/><rect x="876" y="419" width="5" height="2"/><rect x="881" y="418" width="1" height="3"/><rect x="882" y="418" width="5" height="2"/><rect x="887" y="417" width="1" height="3"/><rect x="888" y="417" width="6" height="2"/><rect x="894" y="416" width="1" height="3"/><rect x="895" y="416" width="4" height="2"/><rect x="899" y="415" width="1" height="3"/><rect x="900" y="415" width="3" height="2"/><rect x="903" y="414" width="1" height="3"/><rect x="904" y="414" width="3" height="2"/><rect x="907" y="413" width="1" height="3"/><rect x="908" y="413" width="3" height="2"/><rect x="911" y="412" width="1" height="3"/><rect x="912" y="412" width="4" height="2"/><rect x="916" y="411" width="1" height="3"/><rect x="917" y="411" width="3" height="2"/><rect x="920" y="410" width="1" height="3"/><rect x="921" y="410" width="3" height="2"/><rect x="924" y="409" width="1" height="3"/><rect x="925" y="409" width="2" height="2"/><rect x="927" y="408" width="1" height="3"/><rect x="928" y="408" width="1" height="2"/><rect x="929" y="407" width="1" height="3"/><rect x="930" y="407" width="1" height="2"/><rect x="931" y="406" width="1" height="3"/><rect x="932" y="406" width="1" height="2"/><rect x="933" y="405" width="1" height="3"/><rect x="934" y="405" width="1" height="2"/><rect x="935" y="404" width="1" height="3"/><rect x="936" y="404" width="1" height="2"/><rect x="937" y="403" width="1" height="3"/><rect x="938" y="403" width="1" height="2"/><rect x="939" y="402" width="1" height="3"/><rect x="940" y="402" width="1" height="2"/><rect x="941" y="401" width="1" height="3"/><rect x="942" y="401" width="1" height="2"/><rect x="943" y="400" width="1" height="3"/><rect x="944" y="400" width="2" height="2"/><rect x="946" y="399" width="1" height="3"/><rect x="947" y="399" width="1" height="2"/><rect x="948" y="398" width="1" height="3"/><rect x="949" y="398" width="1" height="2"/><rect x="950" y="397" width="1" height="3"/><rect x="951" y="397" width="2" height="2"/><rect x="953" y="396" width="1" height="3"/><rect x="954" y="396" width="1" height="2"/><rect x="955" y="395" width="1" height="3"/><rect x="956" y="395" width="2" height="2"/><rect x="958" y="394" width="1" height="3"/><rect x="959" y="394" width="2" height="2"/><rect x="961" y="393" width="1" height="3"/><rect x="962" y="393" width="2" height="2"/><rect x="964" y="392" width="1" height="3"/><rect x="965" y="392" width="1" height="2"/><rect x="966" y="391" width="1" height="3"/><rect x="967" y="391" width="2" height="2"/><rect x="969" y="390" width="1" height="3"/><rect x="970" y="390" width="1" height="2"/><rect x="971" y="389" width="1" height="3"/><rect x="972" y="389" width="2" height="2"/><rect x="974" y="388" width="1" height="3"/><rect x="975" y="388" width="2" height="2"/><rect x="977" y="387" width="1" height="3"/><rect x="978" y="387" width="2" height="2"/><rect x="980" y="386" width="1" height="3"/><rect x="981" y="386" width="1" height="2"/></g>
<g fill="#ff0000" shape-rendering="crispEdges"><rect x="5" y="452" width="1" height="2"/><rect x="6" y="451" width="1" height="3"/><rect x="7" y="450" width="1" height="3"/><rect x="8" y="450" width="1" height="2"/><rect x="9" y="449" width="1" height="3"/><rect x="10" y="448" width="1" height="3"/><rect x="11" y="448" width="1" height="2"/><rect x="12" y="447" width="1" height="3"/><rect x="13" y="446" width="1" height="3"/><rect x="14" y="445" width="1" height="3"/><rect x="15" y="444" width="1" height="3"/><rect x="16" y="443" width="1" height="3"/><rect x="17" y="443" width="1" height="2"/><rect x="18" y="442" width="1" height="3"/><rect x="19" y="441" width="1" height="3"/><rect x="20" y="440" width="1" height="3"/><rect x="21" y="439" width="1" height="3"/><rect x="22" y="439" width="1" height="2"/><rect x="23" y="438" width="1" height="3"/><rect x="24" y="437" width="1" height="3"/><rect x="25" y="436" width="1" height="3"/><rect x="26" y="436" width="1" height="2"/><rect x="27" y="435" width="1" height="3"/><rect x="28" y="434" width="1" height="3"/><rect x="29" y="433" width="1" height="3"/><rect x="30" y="433" width="1" height="2"/><rect x="31" y="432" width="1" height="3"/><rect x="32" y="431" width="1" height="3"/><rect x="33" y="430" width="1" height="3"/><rect x="34" y="430" width="1" height="2"/><rect x="35" y="429" width="1" height="3"/><rect x="36" y="428" width="1" height="3"/><rect x="37" y="428" width="1" height="2"/><rect x="38" y="427" width="1" height="3"/><rect x="39" y="427" width="2" height="2"/><rect x="41" y="426" width="1" height="3"/><rect x="42" y="426" width="2" height="2"/><rect x="44" y="425" width="1" height="3"/><rect x="45" y="425" width="1" height="2"/><rect x="46" y="424" width="1" height="3"/><rect x="47" y="424" width="1" height="2"/><rect x="48" y="423" width="1" height="3"/><rect x="49" y="423" width="1" height="2"/><rect x="50" y="422" width="1" height="3"/><rect x="51" y="422" width="1" height="2"/><rect x="52" y="421" width="1" height="3"/><rect x="53" y="421" width="1" height="2"/><rect x="54" y="420" width="1" height="3"/><rect x="55" y="419" width="1" height="3"/><rect x="56" y="419" width="1" height="2"/><rect x="57" y="418" width="1" height="3"/><rect x="58" y="418" width="1" height="2"/><rect x="59" y="417" width="1" height="3"/><rect x="60" y="416" width="1" height="3"/><rect x="61" y="416" width="1" height="2"/><rect x="62" y="415" width="1" height="3"/><rect x="63" y="415" width="1" height="2"/><rect x="64" y="414" width="1" height="3"/><rect x="65" y="414" width="1" height="2"/><rect x="66" y="413" width="1" height="3"/><rect x="67" y="413" width="2" height="2"/><rect x="69" y="412" width="1" height="3"/><rect x="70" y="412" width="1" height="2"/><rect x="71" y="411" width="1" height="3"/><rect x="72" y="411" width="1" height="2"/><rect x="73" y="410" width="1" height="3"/><rect x="74" y="410" width="2" height="2"/><rect x="76" y="409" width="1" height="3"/><rect x="77" y="409" width="1" height="2"/><rect x="78" y="408" width="1" height="3"/><rect x="79" y="408" width="1" height="2"/><rect x="80" y="407" width="1" height="3"/><rect x="81" y="407" width="1" height="2"/><rect x="82" y="406" width="1" height="3"/><rect x="83" y="406" width="2" height="2"/><rect x="85" y="405" width="1" height="3"/><rect x="86" y="405" width="2" height="2"/><rect x="88" y="404" width="1" height="3"/><rect x="89" y="404" width="3" height="2"/><rect x="92" y="403" width="1" height="3"/><rect x="93" y="403" width="2" height="2"/><rect x="95" y="402" width="1" height="3"/><rect x="96" y="402" width="2" height="2"/><rect x="98" y="401" width="1" height="3"/><rect x="99" y="401" width="2" height="2"/><rect x="101" y="400" width="1" height="3"/><rect x="102" y="400" width="2" height="2"/><rect x="104" y="399" width="1" height="3"/><rect x="105" y="399" width="3" height="2"/><rect x="108" y="398" width="1" height="3"/><rect x="109" y="398" width="2" height="2"/><rect x="111" y="397" width="1" height="3"/><rect x="112" y="397" width="2" height="2"/><rect x="114" y="396" width="1" height="3"/><rect x="115" y="396" width="1" height="2"/><rect x="116" y="395" width="1" height="3"/><rect x="117" y="395" width="5" height="2"/><rect x="122" y="394" width="1" height="3"/><rect x="123" y="394" width="29" height="2"/><rect x="152" y="394" width="1" height="3"/><rect x="153" y="395" width="3" height="2"/><rect x="156" y="395" width="1" height="3"/><rect x="157" y="396" width="20" height="2"/><rect x="177" y="396" width="1" height="3"/><rect x="178" y="397" width="11" height="2"/><rect x="189" y="397" width="1" height="3"/><rect x="190" y="398" width="21" height="2"/><rect x="211" y="398" width="1" height="3"/><rect x="212" y="399" width="18" height="2"/><rect x="230" y="398" width="1" height="3"/><rect x="231" y="398" width="10" height="2"/><rect x="241" y="397" width="1" height="3"/><rect x="242" y="397" width="7" height="2"/><rect x="249" y="396" width="1" height="3"/><rect x="250" y="396" width="13" height="2"/><rect x="263" y="395" width="1" height="3"/><rect x="264" y="395" width="46" height="2"/><rect x="310" y="395" width="1" height="3"/><rect x="311" y="396" width="3" height="2"/><rect x="314" y="396" width="1" height="3"/><rect x="315" y="397" width="4" height="2"/><rect x="319" y="397" width="1" height="3"/><rect x="320" y="398" width="4" height="2"/><rect x="324" y="398" width="1" height="3"/><rect x="325" y="399" width="4" height="2"/><rect x="329" y="399" width="1" height="3"/><rect x="330" y="400" width="3" height="2"/><rect x="333" y="400" width="1" height="3"/><rect x="334" y="401" width="1" height="2"/><rect x="335" y="401" width="1" height="3"/><rect x="336" y="402" width="1" height="2"/><rect x="337" y="402" width="1" height="3"/><rect x="338" y="403" width="1" height="2"/><rect x="339" y="403" width="1" height="3"/><rect x="340" y="404" width="1" height="2"/><rect x="341" y="404" width="1" height="3"/><rect x="342" y="405" width="2" height="2"/><rect x="344" y="405" width="1" height="3"/><rect x="345" y="406" width="2" height="2"/><rect x="347" y="406" width="1" height="3"/><rect x="348" y="407" width="2" height="2"/><rect x="350" y="407" width="1" height="3"/><rect x="351" y="408" width="2" height="2"/><rect x="353" y="408" width="1" height="3"/><rect x="354" y="409" width="2" height="2"/><rect x="356" y="409" width="1" height="3"/><rect x="357" y="410" width="2" height="2"/><rect x="359" y="410" width="1" height="3"/><rect x="360" y="411" width="2" height="2"/><rect x="362" y="411" width="1" height="3"/><rect x="363" y="412" width="2" height="2"/><rect x="365" y="412" width="1" height="3"/><rect x="366" y="413" width="2" height="2"/><rect x="368" y="413" width="1" height="3"/><rect x="369" y="414" width="1" height="2"/><rect x="370" y="414" width="1" height="3"/><rect x="371" y="415" width="2" height="2"/><rect x="373" y="415" width="1" height="3"/><rect x="374" y="416" width="1" height="2"/><rect x="375" y="416" width="1" height="3"/><rect x="376" y="417" width="2" height="2"/><rect x="378" y="417" width="1" height="3"/><rect x="379" y="418" width="1" height="2"/><rect x="380" y="418" width="1" height="3"/><rect x="381" y="419" width="2" height="2"/><rect x="383" y="419" width="1" height="3"/><rect x="384" y="420" width="1" height="2"/><rect x="385" y="420" width="1" height="3"/><rect x="386" y="421" width="2" height="2"/><rect x="388" y="421" width="1" height="3"/><rect x="389" y="422" width="2" height="2"/><rect x="391" y="422" width="1" height="3"/><rect x="392" y="423" width="2" height="2"/><rect x="394" y="423" width="1" height="3"/><rect x="395" y="424" width="1" height="2"/><rect x="396" y="424" width="1" height="3"/><rect x="397" y="425" width="1" height="2"/><rect x="398" y="425" width="1" height="3"/><rect x="399" y="426" width="1" height="3"/><rect x="400" y="427" width="1" height="2"/><rect x="401" y="427" width="1" height="3"/><rect x="402" y="428" width="1" height="3"/><rect x="403" y="429" width="1" height="3"/><rect x="404" y="430" width="1" height="3"/><rect x="405" y="431" width="1" height="2"/><rect x="406" y="431" width="1" height="3"/><rect x="407" y="432" width="1" height="3"/><rect x="408" y="433" width="1" height="2"/><rect x="409" y="433" width="1" height="3"/><rect x="410" y="434" width="1" height="3"/><rect x="411" y="435" width="1" height="2"/><rect x="412" y="435" width="1" height="3"/><rect x="413" y="436" width="1" height="2"/><rect x="414" y="436" width="1" height="3"/><rect x="415" y="437" width="2" height="2"/><rect x="417" y="437" width="1" height="3"/><rect x="418" y="438" width="2" height="2"/><rect x="420" y="438" width="1" height="3"/><rect x="421" y="439" width="1" height="2"/><rect x="422" y="439" width="1" height="3"/><rect x="423" y="440" width="1" height="2"/><rect x="424" y="440" width="1" height="3"/><rect x="425" y="441" width="1" height="2"/><rect x="426" y="441" width="1" height="3"/><rect x="427" y="442" width="1" height="2"/><rect x="428" y="442" width="1" height="3"/><rect x="429" y="443" width="1" height="2"/><rect x="430" y="443" width="1" height="3"/><rect x="431" y="444" width="1" height="2"/><rect x="432" y="444" width="1" height="3"/><rect x="433" y="445" width="1" height="2"/><rect x="434" y="445" width="1" height="3"/><rect x="435" y="446" width="2" height="2"/><rect x="437" y="446" width="1" height="3"/><rect x="438" y="447" width="2" height="2"/><rect x="440" y="447" width="1" height="3"/><rect x="441" y="448" width="2" height="2"/><rect x="443" y="448" width="1" height="3"/><rect x="444" y="449" width="2" height="2"/><rect x="446" y="449" width="1" height="3"/><rect x="447" y="450" width="2" height="2"/><rect x="449" y="450" width="1" height="3"/><rect x="450" y="451" width="2" height="2"/><rect x="452" y="451" width="1" height="3"/><rect x="453" y="452" width="2" height="2"/><rect x="455" y="452" width="1" height="3"/><rect x="456" y="453" width="3" height="2"/><rect x="459" y="453" width="1" height="3"/><rect x="460" y="454" width="3" height="2"/><rect x="463" y="454" width="1" height="3"/><rect x="464" y="455" width="4" height="2"/><rect x="468" y="455" width="1" height="3"/><rect x="469" y="456" width="2" height="2"/><rect x="471" y="456" width="1" height="3"/><rect x="472" y="457" width="2" height="2"/><rect x="474" y="457" width="1" height="3"/><rect x="475" y="458" width="2" height="2"/><rect x="477" y="458" width="1" height="3"/><rect x="478" y="459" width="3" height="2"/><rect x="481" y="459" width="1" height="3"/><rect x="482" y="460" width="4" height="2"/><rect x="486" y="460" width="1" height="3"/><rect x="487" y="461" width="5" height="2"/><rect x="492" y="461" width="1" height="3"/><rect x="493" y="462" width="4" height="2"/><rect x="497" y="462" width="1" height="3"/><rect x="498" y="463" width="3" height="2"/><rect x="501" y="463" width="1" height="3"/><rect x="502" y="464" width="2" height="2"/><rect x="504" y="464" width="1" height="3"/><rect x="505" y="465" width="3" height="2"/><rect x="508" y="465" width="1" height="3"/><rect x="509" y="466" width="3" height="2"/><rect x="512" y="466" width="1" height="3"/><rect x="513" y="467" width="4" height="2"/><rect x="517" y="467" width="1" height="3"/><rect x="518" y="468" width="8" height="2"/><rect x="526" y="467" width="1" height="3"/><rect x="527" y="467" width="9" height="2"/><rect x="536" y="466" width="1" height="3"/><rect x="537" y="466" width="5" height="2"/><rect x="542" y="465" width="1" height="3"/><rect x="543" y="465" width="6" height="2"/><rect x="549" y="464" width="1" height="3"/><rect x="550" y="464" width="7" height="2"/><rect x="557" y="463" width="1" height="3"/><rect x="558" y="463" width="6" height="2"/><rect x="564" y="462" width="1" height="3"/><rect x="565" y="462" width="4" height="2"/><rect x="569" y="461" width="1" height="3"/><rect x="570" y="461" width="4" height="2"/><rect x="574" y="460" width="1" height="3"/><rect x="575" y="460" width="4" height="2"/><rect x="579" y="459" width="1" height="3"/><rect x="580" y="459" width="4" height="2"/><rect x="584" y="458" width="1" height="3"/><rect x="585" y="458" width="4" height="2"/><rect x="589" y="457" width="1" height="3"/><rect x="590" y="457" width="4" height="2"/><rect x="594" y="456" width="1" height="3"/><rect x="595" y="456" width="4" height="2"/><rect x="599" y="455" width="1" height="3"/><rect x="600" y="455" width="6" height="2"/><rect x="606" y="454" width="1" height="3"/><rect x="607" y="454" width="6" height="2"/><rect x="613" y="453" width="1" height="3"/><rect x="614" y="453" width="17" height="2"/><rect x="631" y="453" width="1" height="3"/><rect x="632" y="454" width="7" height="2"/><rect x="639" y="454" width="1" height="3"/><rect x="640" y="455" width="17" height="2"/><rect x="657" y="455" width="1" height="3"/><rect x="658" y="456" width="11" height="2"/><rect x="669" y="455" width="1" height="3"/><rect x="670" y="455" width="42" height="2"/><rect x="712" y="454" width="1" height="3"/><rect x="713" y="454" width="12" height="2"/><rect x="725" y="453" width="1" height="3"/><rect x="726" y="453" width="7" height="2"/><rect x="733" y="452" width="1" height="3"/><rect x="734" y="452" width="2" height="2"/><rect x="736" y="451" width="1" height="3"/><rect x="737" y="451" width="3" height="2"/><rect x="740" y="450" width="1" height="3"/><rect x="741" y="450" width="2" height="2"/><rect x="743" y="449" width="1" height="3"/><rect x="744" y="449" width="2" height="2"/><rect x="746" y="448" width="1" height="3"/><rect x="747" y="448" width="2" height="2"/><rect x="749" y="447" width="1" height="3"/><rect x="750" y="447" width="1" height="2"/><rect x="751" y="446" width="1" height="3"/><rect x="752" y="446" width="2" height="2"/><rect x="754" y="445" width="1" height="3"/><rect x="755" y="445" width="1" height="2"/><rect x="756" y="444" width="1" height="3"/><rect x="757" y="444" width="2" height="2"/><rect x="759" y="443" width="1" height="3"/><rect x="760" y="443" width="1" height="2"/><rect x="761" y="442" width="1" height="3"/><rect x="762" y="442" width="2" height="2"/><rect x="764" y="441" width="1" height="3"/><rect x="765" y="441" width="1" height="2"/><rect x="766" y="440" width="1" height="3"/><rect x="767" y="440" width="1" height="2"/><rect x="768" y="439" width="1" height="3"/><rect x="769" y="439" width="1" height="2"/><rect x="770" y="438" width="1" height="3"/><rect x="771" y="438" width="1" height="2"/><rect x="772" y="437" width="1" height="3"/><rect x="773" y="437" width="1" height="2"/><rect x="774" y="436" width="1" height="3"/><rect x="775" y="436" width="1" height="2"/><rect x="776" y="435" width="1" height="3"/><rect x="777" y="434" width="1" height="3"/><rect x="778" y="434" width="1" height="2"/><rect x="779" y="433" width="1" height="3"/><rect x="780" y="433" width="1" height="2"/><rect x="781" y="432" width="1" height="3"/><rect x="782" y="431" width="1" height="3"/><rect x="783" y="431" width="1" height="2"/><rect x="784" y="430" width="1" height="3"/><rect x="785" y="430" width="1" height="2"/><rect x="786" y="429" width="1" height="3"/><rect x="787" y="428" width="1" height="3"/><rect x="788" y="428" width="1" height="2"/><rect x="789" y="427" width="1" height="3"/><rect x="790" y="427" width="1" height="2"/><rect x="791" y="426" width="1" height="3"/><rect x="792" y="426" width="1" height="2"/><rect x="793" y="425" width="1" height="3"/><rect x="794" y="424" width="1" height="3"/><rect x="795" y="424" width="1" height="2"/><rect x="796" y="423" width="1" height="3"/><rect x="797" y="423" width="1" height="2"/><rect x="798" y="422" width="1" height="3"/><rect x="799" y="422" width="1" height="2"/><rect x="800" y="421" width="1" height="3"/><rect x="801" y="421" width="1" height="2"/><rect x="802" y="420" width="1" height="3"/><rect x="803" y="419" width="1" height="3"/><rect x="804" y="419" width="1" height="2"/><rect x="805" y="418" width="1" height="3"/><rect x="806" y="418" width="1" height="2"/><rect x="807" y="417" width="1" height="3"/><rect x="808" y="417" width="1" height="2"/><rect x="809" y="416" width="1" height="3"/><rect x="810" y="416" width="1" height="2"/><rect x="811" y="415" width="1" height="3"/><rect x="812" y="415" width="1" height="2"/><rect x="813" y="414" width="1" height="3"/><rect x="814" y="414" width="1" height="2"/><rect x="815" y="413" width="1" height="3"/><rect x="816" y="413" width="1" height="2"/><rect x="817" y="412" width="1" height="3"/><rect x="818" y="412" width="1" height="2"/><rect x="819" y="411" width="1" height="3"/><rect x="820" y="411" width="1" height="2"/><rect x="821" y="410" width="1" height="3"/><rect x="822" y="410" width="1" height="2"/><rect x="823" y="409" width="1" height="3"/><rect x="824" y="409" width="1" height="2"/><rect x="825" y="408" width="1" height="3"/><rect x="826" y="408" width="1" height="2"/><rect x="827" y="407" width="1" height="3"/><rect x="828" y="407" width="1" height="2"/><rect x="829" y="406" width="1" height="3"/><rect x="830" y="406" width="2" height="2"/><rect x="832" y="405" width="1" height="3"/><rect x="833" y="405" width="1" height="2"/><rect x="834" y="404" width="1" height="3"/><rect x="835" y="404" width="1" height="2"/><rect x="836" y="403" width="1" height="3"/><rect x="837" y="403" width="1" height="2"/><rect x="838" y="402" width="1" height="3"/><rect x="839" y="402" width="1" height="2"/><rect x="840" y="401" width="1" height="3"/><rect x="841" y="401" width="1" height="2"/><rect x="842" y="400" width="1" height="3"/><rect x="843" y="400" width="1" height="2"/><rect x="844" y="399" width="1" height="3"/><rect x="845" y="399" width="1" height="2"/><rect x="846" y="398" width="1" height="3"/><rect x="847" y="397" width="1" height="3"/><rect x="848" y="397" width="1" height="2"/><rect x="849" y="396" width="1" height="3"/><rect x="850" y="396" width="1" height="2"/><rect x="851" y="395" width="1" height="3"/><rect x="852" y="394" width="1" height="3"/><rect x="853" y="394" width="1" height="2"/><rect x="854" y="393" width="1" height="3"/><rect x="855" y="392" width="1" height="3"/><rect x="856" y="392" width="1" height="2"/><rect x="857" y="391" width="1" height="3"/><rect x="858" y="391" width="1" height="2"/><rect x="859" y="390" width="1" height="3"/><rect x="860" y="389" width="1" height="3"/><rect x="861" y="389" width="1" height="2"/><rect x="862" y="388" width="1" height="3"/><rect x="863" y="388" width="1" height="2"/><rect x="864" y="387" width="1" height="3"/><rect x="865" y="386" width="1" height="3"/><rect x="866" y="386" width="1" height="2"/><rect x="867" y="385" width="1" height="3"/><rect x="868" y="385" width="1" height="2"/><rect x="869" y="384" width="1" height="3"/><rect x="870" y="384" width="1" height="2"/><rect x="871" y="383" width="1" height="3"/><rect x="872" y="382" width="1" height="3"/><rect x="873" y="382" width="1" height="2"/><rect x="874" y="381" width="1" height="3"/><rect x="875" y="381" width="1" height="2"/><rect x="876" y="380" width="1" height="3"/><rect x="877" y="379" width="1" height="3"/><rect x="878" y="379" width="1" height="2"/><rect x="879" y="378" width="1" height="3"/><rect x="880" y="378" width="1" height="2"/><rect x="881" y="377" width="1" height="3"/><rect x="882" y="376" width="1" height="3"/><rect x="883" y="376" width="1" height="2"/><rect x="884" y="375" width="1" height="3"/><rect x="885" y="374" width="1" height="3"/><rect x="886" y="374" width="1" height="2"/><rect x="887" y="373" width="1" height="3"/><rect x="888" y="373" width="1" height="2"/><rect x="889" y="372" width="1" height="3"/><rect x="890" y="371" width="1" height="3"/><rect x="891" y="371" width="1" height="2"/><rect x="892" y="370" width="1" height="3"/><rect x="893" y="369" width="1" height="3"/><rect x="894" y="369" width="1" height="2"/><rect x="895" y="368" width="1" height="3"/><rect x="896" y="367" width="1" height="3"/><rect x="897" y="367" width="1" height="2"/><rect x="898" y="366" width="1" height="3"/><rect x="899" y="365" width="1" height="3"/><rect x="900" y="365" width="1" height="2"/><rect x="901" y="364" width="1" height="3"/><rect x="902" y="363" width="1" height="3"/><rect x="903" y="363" width="1" height="2"/><rect x="904" y="362" width="1" height="3"/><rect x="905" y="361" width="1" height="3"/><rect x="906" y="361" width="1" height="2"/><rect x="907" y="360" width="1" height="3"/><rect x="908" y="359" width="1" height="3"/><rect x="909" y="359" width="1" height="2"/><rect x="910" y="358" width="1" height="3"/><rect x="911" y="358" width="1" height="2"/><rect x="912" y="357" width="1" height="3"/><rect x="913" y="356" width="1" height="3"/><rect x="914" y="356" width="1" height="2"/><rect x="915" y="355" width="1" height="3"/><rect x="916" y="354" width="1" height="3"/><rect x="917" y="354" width="1" height="2"/><rect x="918" y="353" width="1" height="3"/><rect x="919" y="353" width="2" height="2"/><rect x="921" y="352" width="1" height="3"/><rect x="922" y="352" width="1" height="2"/><rect x="923" y="351" width="1" height="3"/><rect x="924" y="351" width="1" height="2"/><rect x="925" y="350" width="1" height="3"/><rect x="926" y="349" width="1" height="3"/><rect x="927" y="349" width="1" height="2"/><rect x="928" y="348" width="1" height="3"/><rect x="929" y="348" width="1" height="2"/><rect x="930" y="347" width="1" height="3"/><rect x="931" y="346" width="1" height="3"/><rect x="932" y="346" width="1" height="2"/><rect x="933" y="345" width="1" height="3"/><rect x="934" y="344" width="1" height="3"/><rect x="935" y="344" width="1" height="2"/><rect x="936" y="343" width="1" height="3"/><rect x="937" y="342" width="1" height="3"/><rect x="938" y="341" width="1" height="3"/><rect x="939" y="341" width="1" height="2"/><rect x="940" y="340" width="1" height="3"/><rect x="941" y="339" width="1" height="3"/><rect x="942" y="339" width="1" height="2"/><rect x="943" y="338" width="1" height="3"/><rect x="944" y="337" width="1" height="3"/><rect x="945" y="336" width="1" height="3"/><rect x="946" y="336" width="1" height="2"/><rect x="947" y="335" width="1" height="3"/><rect x="948" y="334" width="1" height="3"/><rect x="949" y="334" width="1" height="2"/><rect x="950" y="333" width="1" height="3"/><rect x="951" y="332" width="1" height="3"/><rect x="952" y="331" width="1" height="3"/><rect x="953" y="331" width="1" height="2"/><rect x="954" y="330" width="1" height="3"/><rect x="955" y="329" width="1" height="3"/><rect x="956" y="328" width="1" height="3"/><rect x="957" y="328" width="1" height="2"/><rect x="958" y="327" width="1" height="3"/><rect x="959" y="326" width="1" height="3"/><rect x="960" y="325" width="1" height="3"/><rect x="961" y="325" width="1" height="2"/><rect x="962" y="324" width="1" height="3"/><rect x="963" y="323" width="1" height="3"/><rect x="964" y="323" width="1" height="2"/><rect x="965" y="322" width="1" height="3"/><rect x="966" y="321" width="1" height="3"/><rect x="967" y="320" width="1" height="3"/><rect x="968" y="320" width="1" height="2"/><rect x="969" y="319" width="1" height="3"/><rect x="970" y="318" width="1" height="3"/><rect x="971" y="318" width="1" height="2"/><rect x="972" y="317" width="1" height="3"/><rect x="973" y="316" width="1" height="3"/><rect x="974" y="316" width="1" height="2"/><rect x="975" y="315" width="1" height="3"/><rect x="976" y="315" width="1" height="2"/><rect x="977" y="314" width="1" height="3"/><rect x="978" y="313" width="1" height="3"/><rect x="979" y="313" width="1" height="2"/><rect x="980" y="312" width="1" height="3"/><rect x="981" y="312" width="1" height="2"/></g>
<rect x="5" y="106" width="1233" height="1" fill="#f00" shape-rendering="crispEdges"/>
<rect x="5" y="160" width="1233" height="1" fill="#f00" shape-rendering="crispEdges"/>
<rect x="5" y="215" width="1233" height="1" fill="#f00" shape-rendering="crispEdges"/>
<rect x="5" y="269" width="1233" height="1" fill="#f00" shape-rendering="crispEdges"/>
<line x1="374.3" y1="578.7" x2="1238" y2="263" stroke="#f00" stroke-width="1" shape-rendering="crispEdges"/>
</g>
<g clip-path="url(#cd)">
<g shape-rendering="crispEdges" fill="#000"><rect x="5" y="628" width="1" height="39"/><rect x="13" y="625" width="1" height="42"/><rect x="21" y="624" width="1" height="43"/><rect x="29" y="627" width="1" height="40"/><rect x="37" y="628" width="1" height="39"/><rect x="45" y="635" width="1" height="32"/><rect x="53" y="639" width="1" height="28"/><rect x="61" y="640" width="1" height="27"/><rect x="69" y="642" width="1" height="25"/><rect x="77" y="642" width="1" height="25"/><rect x="85" y="641" width="1" height="26"/><rect x="93" y="646" width="1" height="21"/><rect x="101" y="647" width="1" height="20"/><rect x="109" y="649" width="1" height="18"/><rect x="117" y="651" width="1" height="16"/><rect x="125" y="656" width="1" height="11"/><rect x="133" y="664" width="1" height="3"/><rect x="141" y="666" width="1" height="7"/><rect x="149" y="666" width="1" height="11"/><rect x="157" y="666" width="1" height="14"/><rect x="165" y="666" width="1" height="16"/><rect x="173" y="666" width="1" height="22"/><rect x="181" y="666" width="1" height="23"/><rect x="189" y="666" width="1" height="24"/><rect x="197" y="666" width="1" height="28"/><rect x="205" y="666" width="1" height="29"/><rect x="213" y="666" width="1" height="29"/><rect x="221" y="666" width="1" height="27"/><rect x="229" y="666" width="1" height="24"/><rect x="237" y="666" width="1" height="17"/><rect x="245" y="666" width="1" height="13"/><rect x="253" y="666" width="1" height="11"/><rect x="261" y="666" width="1" height="11"/><rect x="269" y="666" width="1" height="11"/><rect x="277" y="666" width="1" height="11"/><rect x="285" y="666" width="1" height="11"/><rect x="293" y="666" width="1" height="9"/><rect x="301" y="666" width="1" height="10"/><rect x="309" y="666" width="1" height="11"/><rect x="317" y="666" width="1" height="11"/><rect x="325" y="666" width="1" height="11"/><rect x="333" y="666" width="1" height="8"/><rect x="341" y="666" width="1" height="15"/><rect x="349" y="666" width="1" height="22"/><rect x="357" y="666" width="1" height="27"/><rect x="365" y="666" width="1" height="30"/><rect x="373" y="666" width="1" height="31"/><rect x="381" y="666" width="1" height="31"/><rect x="389" y="666" width="1" height="30"/><rect x="397" y="666" width="1" height="32"/><rect x="405" y="666" width="1" height="33"/><rect x="413" y="666" width="1" height="33"/><rect x="421" y="666" width="1" height="34"/><rect x="429" y="666" width="1" height="34"/><rect x="437" y="666" width="1" height="31"/><rect x="445" y="666" width="1" height="28"/><rect x="453" y="666" width="1" height="25"/><rect x="461" y="666" width="1" height="22"/><rect x="469" y="666" width="1" height="14"/><rect x="477" y="666" width="1" height="7"/><rect x="493" y="663" width="1" height="4"/><rect x="501" y="663" width="1" height="4"/><rect x="509" y="662" width="1" height="5"/><rect x="517" y="662" width="1" height="5"/><rect x="525" y="656" width="1" height="11"/><rect x="533" y="652" width="1" height="15"/><rect x="541" y="644" width="1" height="23"/><rect x="549" y="639" width="1" height="28"/><rect x="557" y="636" width="1" height="31"/><rect x="565" y="637" width="1" height="30"/><rect x="573" y="637" width="1" height="30"/><rect x="581" y="635" width="1" height="32"/><rect x="589" y="635" width="1" height="32"/><rect x="597" y="637" width="1" height="30"/><rect x="605" y="637" width="1" height="30"/><rect x="613" y="641" width="1" height="26"/><rect x="621" y="646" width="1" height="21"/><rect x="629" y="652" width="1" height="15"/><rect x="637" y="656" width="1" height="11"/><rect x="645" y="659" width="1" height="8"/><rect x="653" y="662" width="1" height="5"/><rect x="661" y="665" width="1" height="2"/><rect x="669" y="664" width="1" height="3"/><rect x="677" y="665" width="1" height="2"/><rect x="685" y="666" width="1" height="1"/><rect x="693" y="666" width="1" height="3"/><rect x="701" y="666" width="1" height="2"/><rect x="709" y="666" width="1" height="1"/><rect x="717" y="663" width="1" height="4"/><rect x="725" y="661" width="1" height="6"/><rect x="733" y="659" width="1" height="8"/><rect x="741" y="657" width="1" height="10"/><rect x="749" y="656" width="1" height="11"/><rect x="757" y="653" width="1" height="14"/><rect x="765" y="649" width="1" height="18"/><rect x="773" y="643" width="1" height="24"/><rect x="781" y="638" width="1" height="29"/><rect x="789" y="633" width="1" height="34"/><rect x="797" y="631" width="1" height="36"/><rect x="805" y="627" width="1" height="40"/><rect x="813" y="626" width="1" height="41"/><rect x="821" y="627" width="1" height="40"/><rect x="829" y="630" width="1" height="37"/><rect x="837" y="635" width="1" height="32"/><rect x="845" y="639" width="1" height="28"/><rect x="853" y="637" width="1" height="30"/><rect x="861" y="628" width="1" height="39"/><rect x="869" y="621" width="1" height="46"/><rect x="877" y="613" width="1" height="54"/><rect x="885" y="608" width="1" height="59"/><rect x="893" y="608" width="1" height="59"/><rect x="901" y="605" width="1" height="62"/><rect x="909" y="606" width="1" height="61"/><rect x="917" y="607" width="1" height="60"/><rect x="925" y="606" width="1" height="61"/><rect x="933" y="604" width="1" height="63"/><rect x="941" y="596" width="1" height="71"/><rect x="949" y="592" width="1" height="75"/><rect x="957" y="590" width="1" height="77"/><rect x="965" y="589" width="1" height="78"/><rect x="973" y="592" width="1" height="75"/><rect x="981" y="593" width="1" height="74"/></g>
<polyline fill="none" stroke="#f00" stroke-width="1" stroke-dasharray="3 3" shape-rendering="crispEdges" points="5.0,629.3 13.0,629.4 21.0,629.6 29.0,629.7 37.0,629.8 45.0,630.0 53.0,630.1 61.0,630.6 69.0,631.7 77.0,632.1 85.0,634.4 93.0,637.1 101.0,639.5 109.0,641.4 117.0,643.5 125.0,646.0 133.0,648.5 141.0,651.5 149.0,654.9 157.0,659.1 165.0,663.5 173.0,668.6 181.0,673.3 189.0,677.7 197.0,682.3 205.0,685.4 213.0,688.3 221.0,690.4 229.0,691.5 237.0,691.5 245.0,690.4 253.0,689.9 261.0,687.3 269.0,685.4 277.0,683.2 285.0,681.1 293.0,679.5 301.0,676.9 309.0,676.3 317.0,676.3 325.0,676.3 333.0,676.3 341.0,676.3 349.0,678.4 357.0,680.4 365.0,682.2 373.0,684.5 381.0,687.4 389.0,689.4 397.0,691.8 405.0,694.2 413.0,696.8 421.0,697.1 429.0,698.2 437.0,698.2 445.0,698.2 453.0,697.9 461.0,696.1 469.0,694.1 477.0,691.4 485.0,688.1 493.0,683.0 501.0,678.8 509.0,675.4 517.0,671.1 525.0,667.0 533.0,663.0 541.0,659.3 549.0,655.5 557.0,652.3 565.0,649.1 573.0,647.2 581.0,643.3 589.0,640.3 597.0,638.3 605.0,636.5 613.0,636.5 621.0,637.9 629.0,639.2 637.0,641.4 645.0,643.4 653.0,646.4 661.0,650.2 669.0,653.4 677.0,656.2 685.0,659.6 693.0,661.3 701.0,663.5 709.0,664.5 717.0,665.3 725.0,665.6 733.0,664.3 741.0,663.1 749.0,662.3 757.0,661.0 765.0,658.3 773.0,655.3 781.0,652.0 789.0,649.1 797.0,646.0 805.0,642.2 813.0,638.4 821.0,635.5 829.0,632.9 837.0,631.5 845.0,631.4 853.0,631.3 861.0,630.2 869.0,628.7 877.0,627.2 885.0,625.2 893.0,623.6 901.0,621.0 909.0,617.3 917.0,613.7 925.0,610.3 933.0,607.9 941.0,605.4 949.0,602.9 957.0,600.8 965.0,598.4 973.0,597.1 981.0,596.2"/>
</g>
<g shape-rendering="crispEdges" fill="#000"><rect x="4" y="4" width="1235" height="1"/><rect x="4" y="579" width="1235" height="1"/><rect x="4" y="4" width="1" height="576"/><rect x="1238" y="4" width="1" height="576"/><rect x="4" y="581" width="1235" height="1"/><rect x="4" y="706" width="1235" height="1"/><rect x="4" y="581" width="1" height="126"/><rect x="1238" y="581" width="1" height="126"/><rect x="1239" y="15" width="2" height="1"/><rect x="1239" y="48" width="2" height="1"/><rect x="1239" y="81" width="2" height="1"/><rect x="1239" y="114" width="2" height="1"/><rect x="1239" y="147" width="2" height="1"/><rect x="1239" y="180" width="2" height="1"/><rect x="1239" y="213" width="2" height="1"/><rect x="1239" y="246" width="2" height="1"/><rect x="1239" y="279" width="2" height="1"/><rect x="1239" y="312" width="2" height="1"/><rect x="1239" y="345" width="2" height="1"/><rect x="1239" y="378" width="2" height="1"/><rect x="1239" y="411" width="2" height="1"/><rect x="1239" y="444" width="2" height="1"/><rect x="1239" y="477" width="2" height="1"/><rect x="1239" y="510" width="2" height="1"/><rect x="1239" y="543" width="2" height="1"/><rect x="1239" y="576" width="2" height="1"/><rect x="1239" y="583" width="2" height="1"/><rect x="1239" y="666" width="2" height="1"/><rect x="5" y="707" width="1" height="3"/><rect x="69" y="707" width="1" height="3"/><rect x="133" y="707" width="1" height="3"/><rect x="197" y="707" width="1" height="3"/><rect x="261" y="707" width="1" height="3"/><rect x="325" y="707" width="1" height="3"/><rect x="389" y="707" width="1" height="3"/><rect x="453" y="707" width="1" height="3"/><rect x="517" y="707" width="1" height="3"/><rect x="581" y="707" width="1" height="3"/><rect x="645" y="707" width="1" height="3"/><rect x="709" y="707" width="1" height="3"/><rect x="773" y="707" width="1" height="3"/><rect x="837" y="707" width="1" height="3"/><rect x="901" y="707" width="1" height="3"/><rect x="965" y="707" width="1" height="3"/></g>
<rect x="1238" y="108" width="1" height="1" fill="#e0e0e0" shape-rendering="crispEdges"/>
<g fill="#c0c0c0" shape-rendering="crispEdges"><rect x="985" y="5" width="9" height="1"/><rect x="986" y="6" width="7" height="1"/><rect x="987" y="7" width="5" height="1"/><rect x="988" y="8" width="3" height="1"/><rect x="989" y="9" width="1" height="1"/></g>
<g fill="#000" shape-rendering="crispEdges"><rect x="8" y="11" width="7" height="1"/><rect x="9" y="12" width="5" height="1"/><rect x="10" y="13" width="3" height="1"/><rect x="11" y="14" width="1" height="1"/></g><text x="20.5" y="16" textLength="63.5" lengthAdjust="spacingAndGlyphs">EURUSD,Daily</text><text x="89.6" y="16" textLength="142.5" lengthAdjust="spacingAndGlyphs">1.23710 1.24536 1.23339 1.23964</text><text x="9.1" y="594" textLength="149" lengthAdjust="spacingAndGlyphs">MACD(12,26,9) 0.011611 0.011098</text><text x="1243.8" y="19" textLength="32.8" lengthAdjust="spacingAndGlyphs">1.25690</text><text x="1243.8" y="52" textLength="32.8" lengthAdjust="spacingAndGlyphs">1.25075</text><text x="1243.8" y="85" textLength="32.8" lengthAdjust="spacingAndGlyphs">1.24460</text><text x="1243.8" y="118" textLength="32.8" lengthAdjust="spacingAndGlyphs">1.23860</text><text x="1243.8" y="151" textLength="32.8" lengthAdjust="spacingAndGlyphs">1.23245</text><text x="1243.8" y="184" textLength="32.8" lengthAdjust="spacingAndGlyphs">1.22630</text><text x="1243.8" y="217" textLength="32.8" lengthAdjust="spacingAndGlyphs">1.22015</text><text x="1243.8" y="250" textLength="32.8" lengthAdjust="spacingAndGlyphs">1.21415</text><text x="1243.8" y="283" textLength="32.8" lengthAdjust="spacingAndGlyphs">1.20815</text><text x="1243.8" y="316" textLength="32.8" lengthAdjust="spacingAndGlyphs">1.20200</text><text x="1243.8" y="349" textLength="32.8" lengthAdjust="spacingAndGlyphs">1.19585</text><text x="1243.8" y="382" textLength="32.8" lengthAdjust="spacingAndGlyphs">1.18985</text><text x="1243.8" y="415" textLength="32.8" lengthAdjust="spacingAndGlyphs">1.18370</text><text x="1243.8" y="448" textLength="32.8" lengthAdjust="spacingAndGlyphs">1.17755</text><text x="1243.8" y="481" textLength="32.8" lengthAdjust="spacingAndGlyphs">1.17155</text><text x="1243.8" y="514" textLength="32.8" lengthAdjust="spacingAndGlyphs">1.16540</text><text x="1243.8" y="547" textLength="32.8" lengthAdjust="spacingAndGlyphs">1.15940</text><text x="1243.8" y="580" textLength="32.8" lengthAdjust="spacingAndGlyphs">1.15325</text><rect x="1240" y="103" width="41" height="11" fill="#000" shape-rendering="crispEdges"/><text x="1244.2" y="112" style="fill:#fff;stroke:#fff" textLength="32.6" lengthAdjust="spacingAndGlyphs">1.23964</text><rect x="1240" y="100" width="41" height="11" fill="#f00" shape-rendering="crispEdges"/><text x="1244.2" y="109" style="fill:#fff;stroke:#fff" textLength="32.6" lengthAdjust="spacingAndGlyphs">1.24000</text><rect x="1240" y="154" width="41" height="11" fill="#f00" shape-rendering="crispEdges"/><text x="1244.2" y="163" style="fill:#fff;stroke:#fff" textLength="32.6" lengthAdjust="spacingAndGlyphs">1.23000</text><rect x="1240" y="209" width="41" height="11" fill="#f00" shape-rendering="crispEdges"/><text x="1244.2" y="218" style="fill:#fff;stroke:#fff" textLength="32.6" lengthAdjust="spacingAndGlyphs">1.22000</text><rect x="1240" y="263" width="41" height="11" fill="#f00" shape-rendering="crispEdges"/><text x="1244.2" y="272" style="fill:#fff;stroke:#fff" textLength="32.6" lengthAdjust="spacingAndGlyphs">1.21000</text><text x="1241.6" y="592" textLength="38.6" lengthAdjust="spacingAndGlyphs">0.013154</text><text x="1241.6" y="670" textLength="18.5" lengthAdjust="spacingAndGlyphs">0.00</text><text x="1241.6" y="703" textLength="37" lengthAdjust="spacingAndGlyphs">-0.00619</text><text x="4.2" y="719" textLength="46.4" lengthAdjust="spacingAndGlyphs">7 Sep 2017</text><text x="68.2" y="719" textLength="51.2" lengthAdjust="spacingAndGlyphs">17 Sep 2017</text><text x="132.2" y="719" textLength="52.0" lengthAdjust="spacingAndGlyphs">26 Sep 2017</text><text x="196.2" y="719" textLength="45.5" lengthAdjust="spacingAndGlyphs">5 Oct 2017</text><text x="260.2" y="719" textLength="50.5" lengthAdjust="spacingAndGlyphs">15 Oct 2017</text><text x="324.2" y="719" textLength="50.7" lengthAdjust="spacingAndGlyphs">24 Oct 2017</text><text x="388.2" y="719" textLength="47.7" lengthAdjust="spacingAndGlyphs">2 Nov 2017</text><text x="452.2" y="719" textLength="53.6" lengthAdjust="spacingAndGlyphs">12 Nov 2017</text><text x="516.2" y="719" textLength="53.9" lengthAdjust="spacingAndGlyphs">21 Nov 2017</text><text x="580.2" y="719" textLength="53.5" lengthAdjust="spacingAndGlyphs">30 Nov 2017</text><text x="644.2" y="719" textLength="51.6" lengthAdjust="spacingAndGlyphs">10 Dec 2017</text><text x="708.2" y="719" textLength="51.4" lengthAdjust="spacingAndGlyphs">19 Dec 2017</text><text x="772.2" y="719" textLength="51.8" lengthAdjust="spacingAndGlyphs">29 Dec 2017</text><text x="836.2" y="719" textLength="44.6" lengthAdjust="spacingAndGlyphs">9 Jan 2018</text><text x="900.2" y="719" textLength="48.9" lengthAdjust="spacingAndGlyphs">18 Jan 2018</text><text x="964.2" y="719" textLength="49.7" lengthAdjust="spacingAndGlyphs">28 Jan 2018</text>
</svg></body></html>
